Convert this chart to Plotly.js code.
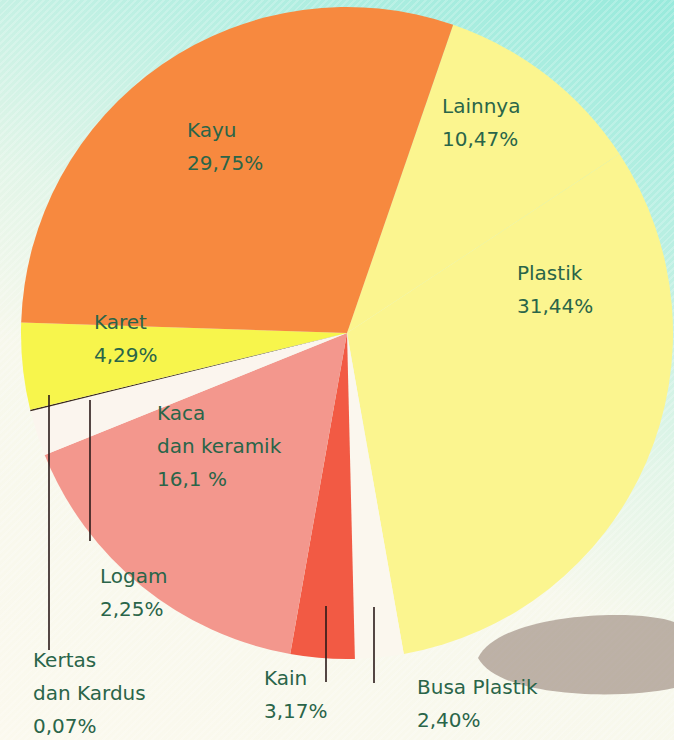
<!DOCTYPE html>
<html>
<head>
<meta charset="utf-8">
<script src="https://cdn.plot.ly/plotly-3.0.1.min.js"></script>
<style>
html,body{margin:0;padding:0;width:674px;height:740px;overflow:hidden;}
body{
  background:
    repeating-linear-gradient(135deg, rgba(255,255,255,0.2) 0px, rgba(255,255,255,0.2) 2px, rgba(255,255,255,0) 2px, rgba(255,255,255,0) 5px),
    linear-gradient(205deg, #98eadc 0%, #b7efe2 22%, #e2f5e8 45%, #f7f8ec 62%, #fbf9ee 100%);
}
#chart{width:674px;height:740px;}
</style>
</head>
<body>
<div id="chart"></div>
<script>
// Data (clockwise from the top boundary)
const categories = ["Lainnya", "Plastik", "Busa Plastik", "Kain", "Kaca\ndan keramik", "Logam", "Kertas\ndan Kardus", "Karet", "Kayu"];
const values = [10.47, 31.44, 2.40, 3.17, 16.1, 2.25, 0.07, 4.29, 29.75];
const valueLabels = ["10,47%", "31,44%", "2,40%", "3,17%", "16,1 %", "2,25%", "0,07%", "4,29%", "29,75%"];
const sliceColors = ["#fbf58f", "#fbf58f", "#fbf7ee", "#f25a44", "#f3978d", "#fbf5ee", "#3b2a22", "#f7f54c", "#f7893f"];

// label placement (pixel positions of first text line, left edge)
const labelPos = [
  [440, 106], [515, 273], [415, 687], [262, 678], [155, 413], [98, 576], [31, 660], [92, 322], [185, 130]
];
const lineGap = 33;

const W = 674, H = 740;
const annotations = [];
categories.forEach((c, i) => {
  const lines = c.split("\n").concat([valueLabels[i]]);
  lines.forEach((t, j) => {
    annotations.push({
      xref: "paper", yref: "paper",
      x: labelPos[i][0] / W, y: 1 - (labelPos[i][1] + j * lineGap) / H,
      xanchor: "left", yanchor: "middle",
      text: t, showarrow: false,
      font: {family: "DejaVu Sans, sans-serif", size: 20, color: "#2a6549"}
    });
  });
});

const px = (x) => x / W, py = (y) => 1 - y / H;
const leaderLines = [[49, 395, 650], [90, 400, 541], [326, 606, 682], [374, 607, 683]];
const shapes = leaderLines.map(l => ({
  type: "line", xref: "paper", yref: "paper",
  x0: px(l[0]), x1: px(l[0]), y0: py(l[1]), y1: py(l[2]),
  line: {color: "#2a1a18", width: 1.6}
}));
// decorative grey fish shape in the background
shapes.push({
  type: "path", xref: "paper", yref: "paper", layer: "below",
  path: `M ${px(478)},${py(658)} C ${px(500)},${py(612)} ${px(640)},${py(608)} ${px(674)},${py(622)} L ${px(674)},${py(688)} C ${px(620)},${py(700)} ${px(500)},${py(698)} ${px(478)},${py(658)} Z`,
  fillcolor: "rgba(140,118,108,0.55)", line: {width: 0}
});

const trace = {
  type: "pie",
  labels: categories.map(c => c.replace("\n", " ")),
  values: values,
  sort: false,
  direction: "clockwise",
  rotation: 19,
  marker: {colors: sliceColors, line: {width: 0}},
  textinfo: "none",
  hoverinfo: "none",
  showlegend: false,
  domain: {x: [21 / W, 673 / W], y: [1 - 659 / H, 1 - 7 / H]}
};

Plotly.newPlot("chart", [trace], {
  width: W, height: H,
  margin: {l: 0, r: 0, t: 0, b: 0},
  paper_bgcolor: "rgba(0,0,0,0)",
  plot_bgcolor: "rgba(0,0,0,0)",
  showlegend: false,
  annotations: annotations,
  shapes: shapes
}, {staticPlot: true});
</script>
</body>
</html>
